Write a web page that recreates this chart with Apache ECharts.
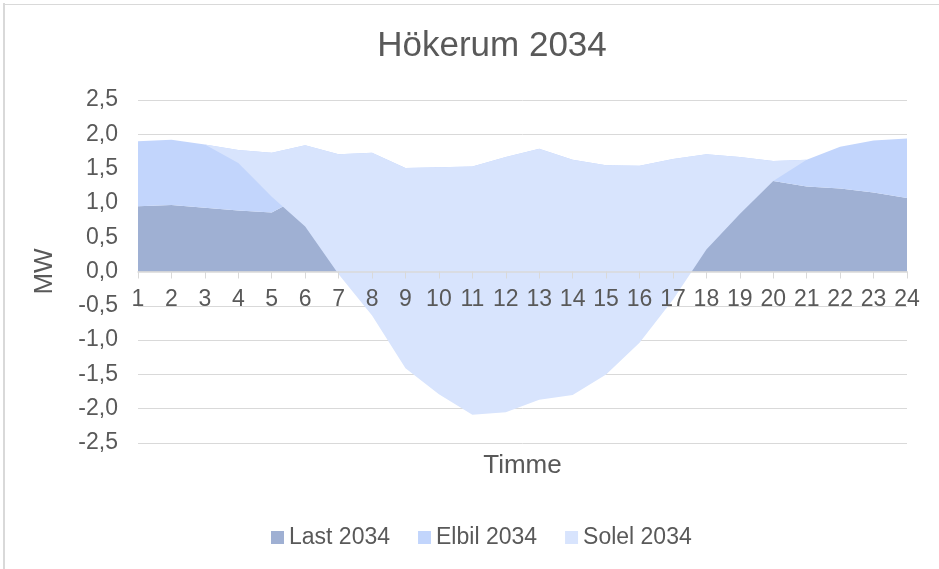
<!DOCTYPE html>
<html>
<head>
<meta charset="utf-8">
<title>Hökerum 2034</title>
<style>
  html, body { margin: 0; padding: 0; background: #fff; }
  #chart { width: 939px; height: 569px; }
</style>
</head>
<body>
<div id="chart"></div>
<script src="https://cdn.jsdelivr.net/npm/echarts@6/dist/echarts.min.js"></script>
<script>
// timmar
var hours = ['1','2','3','4','5','6','7','8','9','10','11','12','13','14','15','16','17','18','19','20','21','22','23','24'];
// staplade serier (MW)
var last2034  = [0.95, 0.97, 0.93, 0.89, 0.86, 1.12, 1.20, 1.25, 1.20, 1.15, 1.15, 1.20, 1.25, 1.20, 1.15, 1.15, 1.20, 1.30, 1.35, 1.32, 1.24, 1.21, 1.15, 1.07];
var elbil2034 = [0.95, 0.95, 0.92, 0.88, 0.87, 0.72, 0.51, 0.48, 0.31, 0.37, 0.38, 0.47, 0.54, 0.43, 0.40, 0.39, 0.44, 0.41, 0.32, 0.29, 0.39, 0.61, 0.76, 0.87];
var solel2034 = [0, 0, 0, -0.19, -0.64, -1.185, -1.75, -2.37, -2.92, -3.31, -3.62, -3.72, -3.66, -3.43, -3.05, -2.58, -2.05, -1.39, -0.83, -0.29, 0, 0, 0, 0];

var textColor = '#595959';
var gridColor = '#d9d9d9';
var font = 'Liberation Sans, Arial, sans-serif';

function areaSerie(name, data, color) {
  return {
    name: name,
    type: 'line',
    stack: 'total',
    stackStrategy: 'all',
    data: data,
    symbol: 'none',
    showSymbol: false,
    lineStyle: { width: 0 },
    itemStyle: { color: color },
    areaStyle: { color: color, opacity: 1 },
    emphasis: { disabled: true }
  };
}

var chart = echarts.init(document.getElementById('chart'));
var option = {
  animation: false,
  textStyle: { fontFamily: font },
  title: {
    text: 'Hökerum 2034',
    left: 487,
    textAlign: 'center',
    top: 24,
    textStyle: { color: textColor, fontSize: 35, fontWeight: 'normal', fontFamily: font }
  },
  legend: {
    left: 266,
    top: 521,
    itemWidth: 13,
    itemHeight: 13,
    itemGap: 28,
    icon: 'rect',
    textStyle: { color: textColor, fontSize: 23, fontFamily: font },
    data: ['Last 2034', 'Elbil 2034', 'Solel 2034']
  },
  grid: { left: 138, right: 32, top: 100, bottom: 126, containLabel: false, outerBoundsMode: 'none' },
  xAxis: [{
    // axellinje och streck vid noll
    type: 'category',
    data: hours,
    boundaryGap: false,
    z: 5,
    name: 'Timme',
    nameLocation: 'middle',
    nameGap: 10,
    nameTextStyle: { color: textColor, fontSize: 26, fontFamily: font, verticalAlign: 'top' },
    axisLine: { onZero: true, lineStyle: { color: gridColor, width: 1.5 } },
    axisTick: { show: true, length: 7, lineStyle: { color: gridColor } },
    axisLabel: { show: false }
  }, {
    // etiketter vid nollinjen
    type: 'category',
    data: hours,
    boundaryGap: false,
    position: 'bottom',
    offset: -171.5,
    z: 5,
    axisLine: { show: false, onZero: false },
    axisTick: { show: false },
    axisLabel: { color: textColor, fontSize: 23, margin: 17, fontFamily: font }
  }],
  yAxis: {
    type: 'value',
    min: -2.5,
    max: 2.5,
    interval: 0.5,
    name: 'MW',
    nameLocation: 'middle',
    nameRotate: 90,
    nameGap: 80,
    nameTextStyle: { color: textColor, fontSize: 26, fontFamily: font },
    axisLine: { show: false },
    axisTick: { show: false },
    splitLine: { lineStyle: { color: gridColor, width: 1 } },
    axisLabel: {
      color: textColor,
      fontSize: 23,
      margin: 20,
      fontFamily: font,
      formatter: function (v) { return v.toFixed(1).replace('.', ','); }
    }
  },
  graphic: [
    { type: 'line', shape: { x1: 4, y1: 3, x2: 4, y2: 569 }, style: { stroke: gridColor, lineWidth: 2 } },
    { type: 'line', shape: { x1: 3, y1: 4.5, x2: 939, y2: 4.5 }, style: { stroke: gridColor, lineWidth: 1 } }
  ],
  series: [
    areaSerie('Last 2034', last2034, '#9fb0d3'),
    areaSerie('Elbil 2034', elbil2034, '#c2d5fc'),
    areaSerie('Solel 2034', solel2034, '#d8e4fd')
  ]
};
chart.setOption(option);
</script>
</body>
</html>
